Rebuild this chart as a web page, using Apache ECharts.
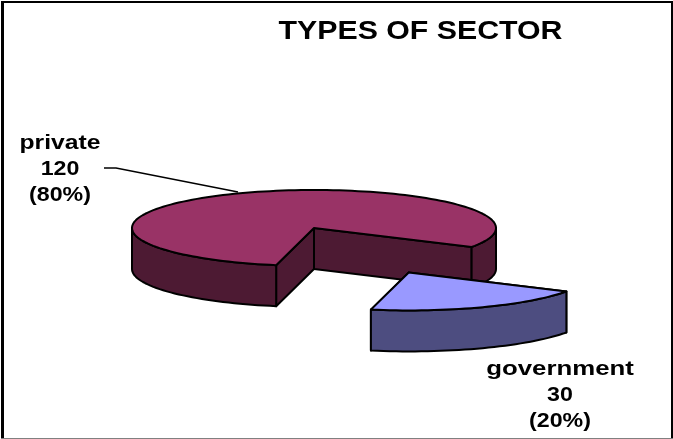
<!DOCTYPE html>
<html>
<head>
<meta charset="utf-8">
<style>html,body{margin:0;padding:0;background:#fff}#c{width:673px;height:439px}</style>
<script src="https://cdn.jsdelivr.net/npm/echarts@6/dist/echarts.min.js"></script>
</head>
<body>
<div id="c"></div>
<script>
var chartTitle = "TYPES OF SECTOR";
var categories = ["private", "government"];
var sectorValues = [120, 30];
var topColors = ["#993366", "#9999ff"];
var wallColors = ["#4d1a33", "#4d4d80"];
var explodeFactors = [0, 1.28];
var labelCenters = [[60, 143], [560, 369]];
var labelScales = [[1.235, 1.16, 1.16], [1.29, 1.16, 1.16]];
var lineGap = 26;

var CX = 314, CY = 228, RX = 182, RY = 38, DEPTH = 41, START = 102;
var total = sectorValues.reduce(function (a, b) { return a + b; }, 0);
var font = '"Liberation Sans", Arial, sans-serif';

function pt(deg, ox, oy, dy) {
  var r = deg * Math.PI / 180;
  return [CX + ox + RX * Math.cos(r), CY + oy + dy + RY * Math.sin(r)];
}
function arc(a0, a1, ox, oy, dy) {
  var out = [], n = Math.max(2, Math.ceil(Math.abs(a1 - a0) / 2));
  for (var i = 0; i <= n; i++) out.push(pt(a0 + (a1 - a0) * i / n, ox, oy, dy));
  return out;
}
function poly(points, fill) {
  return { type: 'polygon', shape: { points: points },
           style: { fill: fill, stroke: '#000', lineWidth: 2, lineJoin: 'round' } };
}
function renderItem(params, api) {
  var i = params.dataIndex, v = api.value(0), before = 0;
  for (var k = 0; k < i; k++) before += sectorValues[k];
  var a0 = START + before / total * 360, a1 = a0 + v / total * 360;
  var mid = (a0 + a1) / 2 * Math.PI / 180, f = explodeFactors[i];
  var ox = f * RX * Math.cos(mid), oy = f * RY * Math.sin(mid);
  var apex = [CX + ox, CY + oy], apexLow = [apex[0], apex[1] + DEPTH];
  var kids = [];
  // radial faces
  [a1, a0].forEach(function (a) {
    var p = pt(a, ox, oy, 0), q = pt(a, ox, oy, DEPTH);
    kids.push(poly([apex, p, q, apexLow], wallColors[i]));
  });
  // outer wall: only the part of the rim that faces the viewer
  [0, 360].forEach(function (base) {
    var s = Math.max(a0, base), e = Math.min(a1, base + 180);
    if (e > s) {
      kids.push(poly(arc(s, e, ox, oy, 0).concat(arc(e, s, ox, oy, DEPTH)), wallColors[i]));
    }
  });
  // top
  kids.push(poly([apex].concat(arc(a0, a1, ox, oy, 0)), topColors[i]));
  // label
  var lines = [categories[i], String(v), '(' + Math.round(v / total * 100) + '%)'];
  lines.forEach(function (t, n) {
    kids.push({ type: 'text', x: labelCenters[i][0], y: labelCenters[i][1] + n * lineGap,
      scaleX: labelScales[i][n],
      style: { text: t, fill: '#000', font: 'bold 20px ' + font, textAlign: 'center', textVerticalAlign: 'middle' } });
  });
  if (i === 0) {
    kids.push({ type: 'polyline', shape: { points: [[104, 168], [116, 168], [238, 192]] },
                style: { fill: null, stroke: '#000', lineWidth: 1.5 } });
  }
  return { type: 'group', children: kids };
}
function frameBar(x, y, w, h, color) {
  return { type: 'rect', shape: { x: x, y: y, width: w, height: h }, z: 20, style: { fill: color } };
}
var chart = echarts.init(document.getElementById('c'), null, { renderer: 'canvas' });
chart.setOption({
  animation: false,
  backgroundColor: '#fff',
  graphic: [
    { type: 'text', x: 420.5, y: 32, scaleX: 1.165, z: 10,
      style: { text: chartTitle, fill: '#000', font: 'bold 26px ' + font, textAlign: 'center', textVerticalAlign: 'middle' } },
    frameBar(1, 1, 3, 437, '#000'),
    frameBar(1, 1, 672, 2, '#000'),
    frameBar(671, 1, 2, 437, '#000'),
    frameBar(1, 438, 672, 1, '#808080')
  ],
  series: [{
    type: 'custom',
    coordinateSystem: 'none',
    renderItem: renderItem,
    silent: true,
    data: sectorValues.map(function (v) { return [v]; })
  }]
});
</script>
</body>
</html>
